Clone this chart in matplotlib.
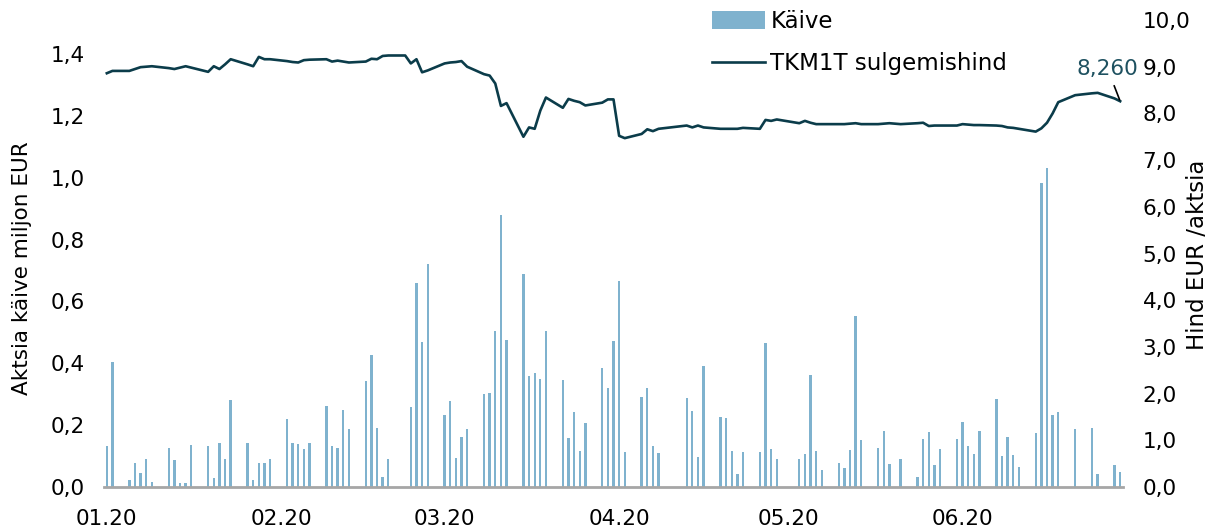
import matplotlib
matplotlib.use("Agg")
import matplotlib.pyplot as plt
import matplotlib.dates as mdates
from matplotlib.patches import Patch
from matplotlib.lines import Line2D
import numpy as np
import pandas as pd

plt.rcParams['font.family'] = ['DejaVu Sans']

# Trading dates (Feb 24 kept with zero turnover)
holidays = ['2020-04-10', '2020-04-13', '2020-05-01', '2020-06-23', '2020-06-24']
dates = pd.bdate_range('2020-01-02', '2020-06-30')
dates = dates[~dates.isin(pd.to_datetime(holidays))]

vol_jan = [0.132, 0.403, 0.022, 0.078, 0.044, 0.092, 0.015, 0.125, 0.087, 0.012, 0.013,
           0.136, 0.132, 0.028, 0.143, 0.090, 0.280, 0.141, 0.022, 0.077, 0.076, 0.091]
vol_feb = [0.220, 0.143, 0.140, 0.122, 0.141, 0.263, 0.132, 0.125, 0.250, 0.189, 0.342,
           0.427, 0.192, 0.031, 0.092, 0.0, 0.258, 0.659, 0.468, 0.720]
vol_mar = [0.232, 0.278, 0.095, 0.163, 0.189, 0.300, 0.304, 0.504, 0.878, 0.474, 0.688,
           0.359, 0.367, 0.348, 0.504, 0.345, 0.157, 0.241, 0.115, 0.206, 0.384, 0.320]
vol_apr = [0.471, 0.665, 0.114, 0.290, 0.319, 0.132, 0.110, 0.289, 0.246, 0.096, 0.390,
           0.225, 0.222, 0.116, 0.041, 0.113, 0.114, 0.464, 0.122, 0.090]
vol_may = [0.092, 0.108, 0.363, 0.118, 0.056, 0.078, 0.061, 0.119, 0.553, 0.153, 0.125,
           0.180, 0.073, 0.0, 0.090, 0.032, 0.156, 0.177, 0.071, 0.122]
vol_jun = [0.154, 0.210, 0.131, 0.106, 0.180, 0.285, 0.099, 0.162, 0.102, 0.064, 0.174,
           0.982, 1.031, 0.233, 0.244, 0.186, 0.192, 0.041, 0.072, 0.047]

price_jan = [8.86, 8.91, 8.91, 8.95, 8.99, 9.00, 9.01, 8.97, 8.95, 8.98, 9.01,
             8.98, 8.89, 9.01, 8.95, 9.05, 9.16, 9.05, 9.01, 9.21, 9.16, 9.16]
price_feb = [9.12, 9.10, 9.09, 9.14, 9.15, 9.16, 9.11, 9.13, 9.11, 9.09, 9.11,
             9.17, 9.16, 9.23, 9.24, 9.24, 9.07, 9.16, 8.88, 8.92]
price_mar = [9.07, 9.09, 9.10, 9.12, 9.00, 8.84, 8.81, 8.64, 8.16, 8.22, 7.50,
             7.70, 7.67, 8.06, 8.34, 8.12, 8.31, 8.27, 8.24, 8.17, 8.23, 8.30]
price_apr = [8.30, 7.52, 7.47, 7.56, 7.66, 7.62, 7.67, 7.74, 7.70, 7.74, 7.70,
             7.67, 7.67, 7.67, 7.67, 7.69, 7.67, 7.86, 7.84, 7.87]
price_may = [7.79, 7.84, 7.80, 7.77, 7.77, 7.77, 7.77, 7.78, 7.79, 7.77, 7.77,
             7.78, 7.79, 7.78, 7.77, 7.79, 7.80, 7.73, 7.74, 7.74]
price_jun = [7.74, 7.77, 7.76, 7.75, 7.75, 7.74, 7.73, 7.70, 7.69, 7.67, 7.61,
             7.68, 7.80, 8.00, 8.24, 8.39, 8.43, 8.44, 8.32, 8.26]

volume = vol_jan + vol_feb + vol_mar + vol_apr + vol_may + vol_jun
price = price_jan + price_feb + price_mar + price_apr + price_may + price_jun

left_ticks = [0.0, 0.2, 0.4, 0.6, 0.8, 1.0, 1.2, 1.4]
right_ticks = [0, 1, 2, 3, 4, 5, 6, 7, 8, 9, 10]
month_ticks = ['2020-01-02', '2020-02-02', '2020-03-02', '2020-04-02', '2020-05-02', '2020-06-02']
last_label = '8,260'

BAR = '#7FB2CE'
LINE = '#0B3C4A'
FS = 15.5
TFS = 15.5
RFS = 16.5
LFS = 16.5

W, H = 1211, 532
fig = plt.figure(figsize=(W / 100, H / 100), dpi=100)
ax = fig.add_axes([104 / W, 45 / H, (1123 - 104) / W, (487 - 20) / H])

ax.bar(dates, volume, width=0.42, color=BAR, zorder=2)
ax.set_xlim(pd.Timestamp('2020-01-02') - pd.Timedelta(hours=12),
            pd.Timestamp('2020-06-30') + pd.Timedelta(hours=12))
ax.set_ylim(0, 1.51)
ax.set_yticks(left_ticks)
ax.set_yticklabels([f"{v:.1f}".replace('.', ',') for v in left_ticks])
ax.set_xticks(pd.to_datetime(month_ticks))
ax.xaxis.set_major_formatter(mdates.DateFormatter('%m.%y'))

ax2 = ax.twinx()
ax2.plot(dates, price, color=LINE, lw=1.9, zorder=3)
ax2.set_ylim(0, 10)
ax2.set_yticks(right_ticks)
ax2.set_yticklabels([f"{v:.1f}".replace('.', ',') for v in right_ticks])

for a in (ax, ax2):
    for s in ('top', 'left', 'right', 'bottom'):
        a.spines[s].set_visible(False)
ax.spines['bottom'].set_visible(True)
ax.spines['bottom'].set_color('#A6A6A6')
ax.spines['bottom'].set_linewidth(2)

ax.tick_params(axis='y', length=0, pad=14, labelsize=FS, colors='black')
ax.tick_params(axis='x', length=0, pad=16, labelsize=FS, colors='black')
ax2.tick_params(axis='y', length=0, pad=14, labelsize=FS, colors='black')

fig.text(22 / W, 1 - 268 / H, 'Aktsia käive miljon EUR', rotation=90,
         ha='center', va='center', fontsize=TFS)
fig.text(1197 / W, 1 - 255 / H, 'Hind EUR /aktsia', rotation=90,
         ha='center', va='center', fontsize=RFS)

ax2.annotate(last_label, xy=(dates[-1], price[-1]), xytext=(-9, 16),
             textcoords='offset points', ha='center', va='bottom',
             color='#1E5160', fontsize=FS,
             arrowprops=dict(arrowstyle='-', color='black', lw=1.2,
                             shrinkA=3, shrinkB=1))

handles = [Patch(facecolor=BAR, edgecolor='none'),
           Line2D([0], [0], color=LINE, lw=1.9)]
fig.legend(handles, ['Käive', 'TKM1T sulgemishind'], loc='upper left',
           bbox_to_anchor=(712 / W, 1 - 10 / H), frameon=False,
           prop={'size': LFS},
           handlelength=2.3, handleheight=0.85, handletextpad=0.25,
           labelspacing=0.85, borderpad=0, borderaxespad=0)

fig.savefig('out.png', dpi=100)
